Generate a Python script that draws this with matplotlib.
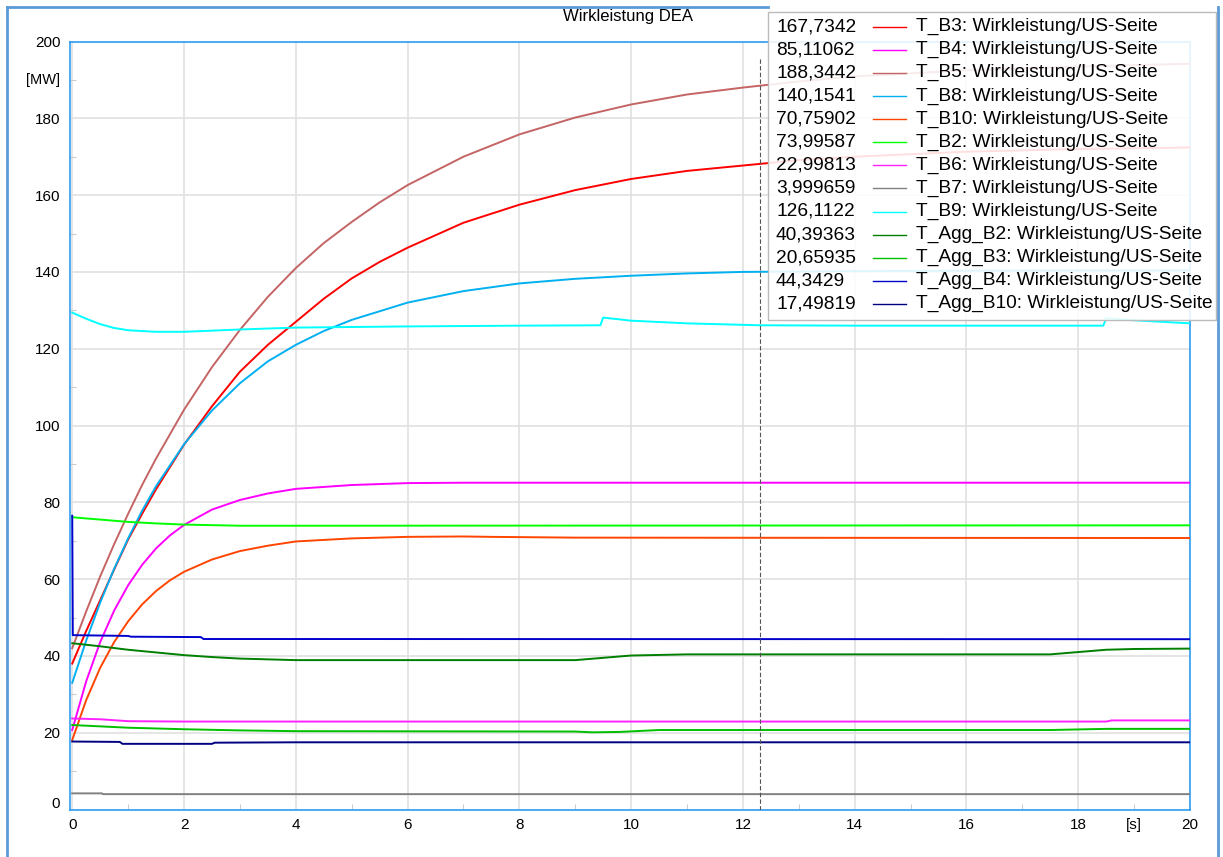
import matplotlib
matplotlib.use('Agg')
import matplotlib.pyplot as plt
from matplotlib.lines import Line2D
from matplotlib.patches import Rectangle
from matplotlib.ticker import MultipleLocator, FuncFormatter

plt.rcParams['font.family'] = ['Liberation Sans', 'DejaVu Sans']

title = 'Wirkleistung DEA'
cursor_t = 12.31

# time in s, power in MW
t_b3 = [0, 0.25, 0.5, 0.75, 1, 1.25, 1.5, 2, 2.5, 3, 3.5, 4, 4.5, 5, 5.5, 6, 7, 8, 9, 10, 11, 12, 13, 14, 16, 18, 20]
v_b3 = [38.0, 46.5, 54.5, 62.5, 70.3, 77.0, 83.4, 95.0, 105.0, 114.0, 121.0, 127.0, 133.0, 138.3, 142.6, 146.3, 152.8, 157.5, 161.3, 164.2, 166.3, 167.7, 169.1, 170.0, 171.3, 172.0, 172.4]

t_b4 = [0, 0.25, 0.5, 0.75, 1, 1.25, 1.5, 1.75, 2, 2.5, 3, 3.5, 4, 5, 6, 7, 20]
v_b4 = [20.7, 33.4, 43.6, 51.8, 58.4, 63.7, 68.0, 71.4, 74.1, 78.1, 80.6, 82.3, 83.5, 84.5, 85.0, 85.1, 85.1]

t_b5 = [0, 0.25, 0.5, 0.75, 1, 1.25, 1.5, 2, 2.5, 3, 3.5, 4, 4.5, 5, 5.5, 6, 7, 8, 9, 10, 11, 12, 13, 14, 16, 18, 20]
v_b5 = [42.0, 51.6, 60.7, 69.1, 77.0, 84.5, 91.4, 104.1, 115.2, 124.9, 133.5, 141.0, 147.5, 153.0, 158.1, 162.6, 170.0, 175.8, 180.2, 183.6, 186.2, 188.0, 189.6, 190.9, 192.5, 193.5, 194.2]

t_b8 = [0, 0.25, 0.5, 0.75, 1, 1.25, 1.5, 2, 2.5, 3, 3.5, 4, 4.5, 5, 6, 7, 8, 9, 10, 11, 12, 14, 16, 18, 20]
v_b8 = [33.0, 44.0, 53.9, 62.7, 70.6, 77.8, 84.2, 95.1, 103.9, 111.0, 116.7, 121.0, 124.6, 127.5, 132.0, 135.0, 137.0, 138.2, 139.0, 139.6, 140.0, 140.2, 140.3, 140.4, 140.4]

t_b10 = [0, 0.25, 0.5, 0.75, 1, 1.25, 1.5, 1.75, 2, 2.5, 3, 3.5, 4, 5, 6, 7, 7.5, 9, 12.3, 20]
v_b10 = [18.1, 28.5, 36.9, 43.6, 49.0, 53.4, 56.9, 59.7, 61.9, 65.1, 67.3, 68.7, 69.8, 70.6, 71.0, 71.1, 71.0, 70.8, 70.76, 70.7]

t_b2 = [0, 0.5, 1, 1.5, 2, 3, 4, 20]
v_b2 = [76.1, 75.5, 74.9, 74.5, 74.2, 73.9, 73.9, 74.0]

t_b6 = [0, 0.5, 1, 2, 18.5, 18.6, 20]
v_b6 = [23.7, 23.5, 23.0, 22.9, 22.9, 23.2, 23.2]

t_b7 = [0, 0.53, 0.55, 20]
v_b7 = [4.2, 4.2, 4.0, 4.0]

t_b9 = [0, 0.25, 0.5, 0.75, 1, 1.5, 2, 3, 4, 6, 8, 9.45, 9.5, 10, 11, 12.3, 14, 16, 18.45, 18.5, 19, 20]
v_b9 = [129.4, 127.8, 126.4, 125.4, 124.8, 124.4, 124.4, 125.0, 125.5, 125.8, 126.0, 126.1, 128.1, 127.3, 126.6, 126.1, 126.0, 126.0, 126.0, 128.0, 127.4, 126.6]

t_agg_b2 = [0, 0.5, 1, 1.5, 2, 2.5, 3, 3.5, 4, 9.0, 9.5, 10, 11, 12.3, 17.5, 18, 18.5, 19, 20]
v_agg_b2 = [43.3, 42.5, 41.6, 40.9, 40.2, 39.7, 39.3, 39.1, 38.9, 38.9, 39.5, 40.1, 40.4, 40.4, 40.4, 41.0, 41.6, 41.8, 41.9]

t_agg_b3 = [0, 1, 2, 3, 4, 9, 9.3, 9.8, 10.5, 17.5, 18.5, 20]
v_agg_b3 = [22.0, 21.3, 20.9, 20.6, 20.4, 20.3, 20.1, 20.2, 20.7, 20.7, 21.0, 21.0]

t_agg_b4 = [0, 0.01, 1, 1.05, 2.3, 2.35, 20]
v_agg_b4 = [76.5, 45.4, 45.2, 45.0, 44.9, 44.4, 44.35]

t_agg_b10 = [0, 0.85, 0.9, 2.5, 2.55, 4, 20]
v_agg_b10 = [17.7, 17.6, 17.1, 17.1, 17.4, 17.5, 17.5]

names = ['T_B3', 'T_B4', 'T_B5', 'T_B8', 'T_B10', 'T_B2', 'T_B6', 'T_B7', 'T_B9',
         'T_Agg_B2', 'T_Agg_B3', 'T_Agg_B4', 'T_Agg_B10']
cursor_vals = ['167,7342', '85,11062', '188,3442', '140,1541', '70,75902', '73,99587', '22,99813',
               '3,999659', '126,1122', '40,39363', '20,65935', '44,3429', '17,49819']
colors = ['#ff0000', '#ff00ff', '#c46464', '#00b0f0', '#ff4500', '#00ff00', '#ff22ff',
          '#808080', '#00ffff', '#008000', '#00c000', '#0000cd', '#000080']
series = [(t_b3, v_b3), (t_b4, v_b4), (t_b5, v_b5), (t_b8, v_b8), (t_b10, v_b10), (t_b2, v_b2),
          (t_b6, v_b6), (t_b7, v_b7), (t_b9, v_b9), (t_agg_b2, v_agg_b2), (t_agg_b3, v_agg_b3),
          (t_agg_b4, v_agg_b4), (t_agg_b10, v_agg_b10)]

W, H = 1223, 857
fig = plt.figure(figsize=(W / 100, H / 100), dpi=100)


def fx(x):
    return x / W


def fy(y):
    return 1 - y / H


ax = fig.add_axes([fx(70), fy(809.5), 1120 / W, 768 / H])

for (t, v), c in zip(series, colors):
    ax.plot(t, v, color=c, lw=1.4, zorder=3)

ax.axvline(cursor_t, ymax=0.98, color='#555555', lw=0.8, ls=(0, (4, 2)), zorder=4)

ax.set_xlim(-0.04, 20.0)
ax.set_ylim(0, 200)
ax.xaxis.set_major_locator(MultipleLocator(2))
ax.xaxis.set_minor_locator(MultipleLocator(1))
ax.yaxis.set_major_locator(MultipleLocator(20))
ax.yaxis.set_minor_locator(MultipleLocator(10))
# the "0" label is drawn separately, lifted off the bottom edge
ax.yaxis.set_major_formatter(FuncFormatter(lambda v, p: '' if v == 0 else '%d' % v))
ax.grid(True, which='major', color='#e0e0e0', lw=1.2, zorder=0)
ax.set_axisbelow(True)
ax.tick_params(which='major', length=0, labelsize=11, pad=7)
ax.tick_params(which='minor', direction='in', length=4, color='#cccccc', width=0.8)
ax.tick_params(axis='x', which='major', pad=6)
for s in ax.spines.values():
    s.set_color('#2196f3')
    s.set_linewidth(1.1)

ax.annotate('0', xy=(0, 0), xycoords=('axes fraction', 'data'), xytext=(-7, 4),
            textcoords='offset points', ha='right', va='center', fontsize=11)
ax.annotate('[MW]', xy=(0, 190), xycoords=('axes fraction', 'data'), xytext=(-7, 0),
            textcoords='offset points', ha='right', va='center', fontsize=10.5)
ax.annotate('[s]', xy=(19, 0), xycoords=('data', 'axes fraction'), xytext=(0, -6),
            textcoords='offset points', ha='center', va='top', fontsize=11)

fig.text(fx(628), fy(16), title, ha='center', va='center', fontsize=12)

# outer window frame
frame_c = '#5b9bd5'
fig.add_artist(Line2D([fx(7), fx(7)], [fy(7), 0], color=frame_c, lw=2))
fig.add_artist(Line2D([fx(7), fx(768)], [fy(7), fy(7)], color=frame_c, lw=2))
fig.add_artist(Line2D([fx(1218), fx(1218)], [fy(7), 0], color=frame_c, lw=2))

# cursor value table
fig.add_artist(Rectangle((fx(768), fy(320)), (1216 - 768) / W, (320 - 12) / H,
                         transform=fig.transFigure, facecolor=(1, 1, 1, 0.88),
                         edgecolor='#bbbbbb', lw=1, zorder=10))
for i, (val, name, c) in enumerate(zip(cursor_vals, names, colors)):
    yc = fy(26.7 + i * 23.1)
    fig.text(fx(776), yc, val, ha='left', va='center', fontsize=13.8, zorder=11)
    fig.add_artist(Line2D([fx(873), fx(906)], [yc, yc], color=c, lw=1.0, zorder=11))
    fig.text(fx(916), yc, name + ': Wirkleistung/US-Seite', ha='left', va='center',
             fontsize=13.8, zorder=11)

plt.savefig('out.png', dpi=100)
